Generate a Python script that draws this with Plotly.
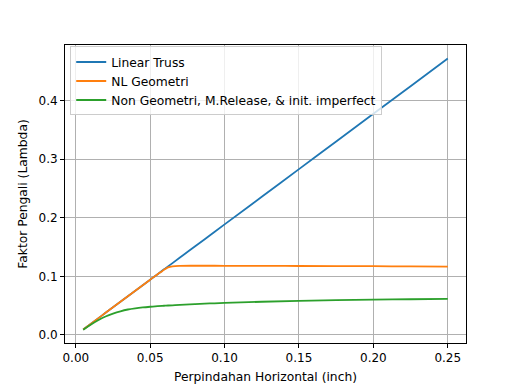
import plotly.graph_objects as go

x_vals = [0.005, 0.01, 0.015, 0.02, 0.025, 0.03, 0.035, 0.04, 0.045, 0.05, 0.055, 0.058,
          0.06, 0.062, 0.065, 0.07, 0.08, 0.09, 0.10, 0.125, 0.15, 0.175, 0.20, 0.225, 0.25]

linear_truss = [0.0094, 0.0189, 0.0283, 0.0378, 0.0472, 0.0566, 0.0661, 0.0755, 0.0850, 0.0944,
                0.1038, 0.1095, 0.1133, 0.1171, 0.1227, 0.1322, 0.1510, 0.1699, 0.1888, 0.2360,
                0.2832, 0.3304, 0.3776, 0.4248, 0.4720]

nl_geometri = [0.0094, 0.0189, 0.0283, 0.0378, 0.0472, 0.0566, 0.0661, 0.0755, 0.0850, 0.0944,
               0.1038, 0.1090, 0.1125, 0.1155, 0.1172, 0.1180, 0.1182, 0.1182, 0.1181, 0.1180,
               0.1178, 0.1176, 0.1174, 0.1171, 0.1168]

non_geometri = [0.0090, 0.0175, 0.0250, 0.0315, 0.0365, 0.0405, 0.0435, 0.0455, 0.0470, 0.0482,
                0.0492, 0.0497, 0.0500, 0.0503, 0.0507, 0.0515, 0.0527, 0.0538, 0.0547, 0.0567,
                0.0583, 0.0595, 0.0604, 0.0610, 0.0615]

series_names = ["Linear Truss", "NL Geometri", "Non Geometri, M.Release, & init. imperfect"]
colors = ["#1f77b4", "#ff7f0e", "#2ca02c"]

fig = go.Figure()
for name, ys, c in zip(series_names, [linear_truss, nl_geometri, non_geometri], colors):
    fig.add_trace(go.Scatter(x=x_vals, y=ys, mode="lines", name=name,
                             line=dict(color=c, width=1.8), line_shape="spline"))

FONT = dict(family="DejaVu Sans", size=12.3, color="black")
TICKFONT = dict(family="DejaVu Sans", size=12, color="black")

axis_common = dict(
    showline=True, linecolor="black", linewidth=1, mirror=True,
    ticks="outside", ticklen=4, tickcolor="black", tickwidth=1,
    showgrid=True, gridcolor="#b0b0b0", gridwidth=1,
    zeroline=False, automargin=False,
    tickfont=TICKFONT,
)

fig.update_layout(
    width=518, height=388,
    margin=dict(l=57, r=60, t=37, b=53),
    paper_bgcolor="white", plot_bgcolor="white",
    font=FONT,
    xaxis=dict(range=[-0.00725, 0.26225], tickvals=[0, 0.05, 0.1, 0.15, 0.2, 0.25],
               tickformat=".2f",
               title=dict(text="Perpindahan Horizontal (inch)", standoff=7, font=FONT),
               **axis_common),
    yaxis=dict(range=[-0.0137, 0.4951], tickvals=[0, 0.1, 0.2, 0.3, 0.4],
               tickformat=".1f",
               title=dict(text="Faktor Pengali (Lambda)", standoff=8, font=FONT),
               **axis_common),
    legend=dict(x=0.013, y=0.995, xanchor="left", yanchor="top",
                bgcolor="rgba(255,255,255,0.8)", bordercolor="#cccccc", borderwidth=1,
                font=FONT, tracegroupgap=0, itemwidth=30),
    showlegend=True,
)

fig.write_html("out.html")
